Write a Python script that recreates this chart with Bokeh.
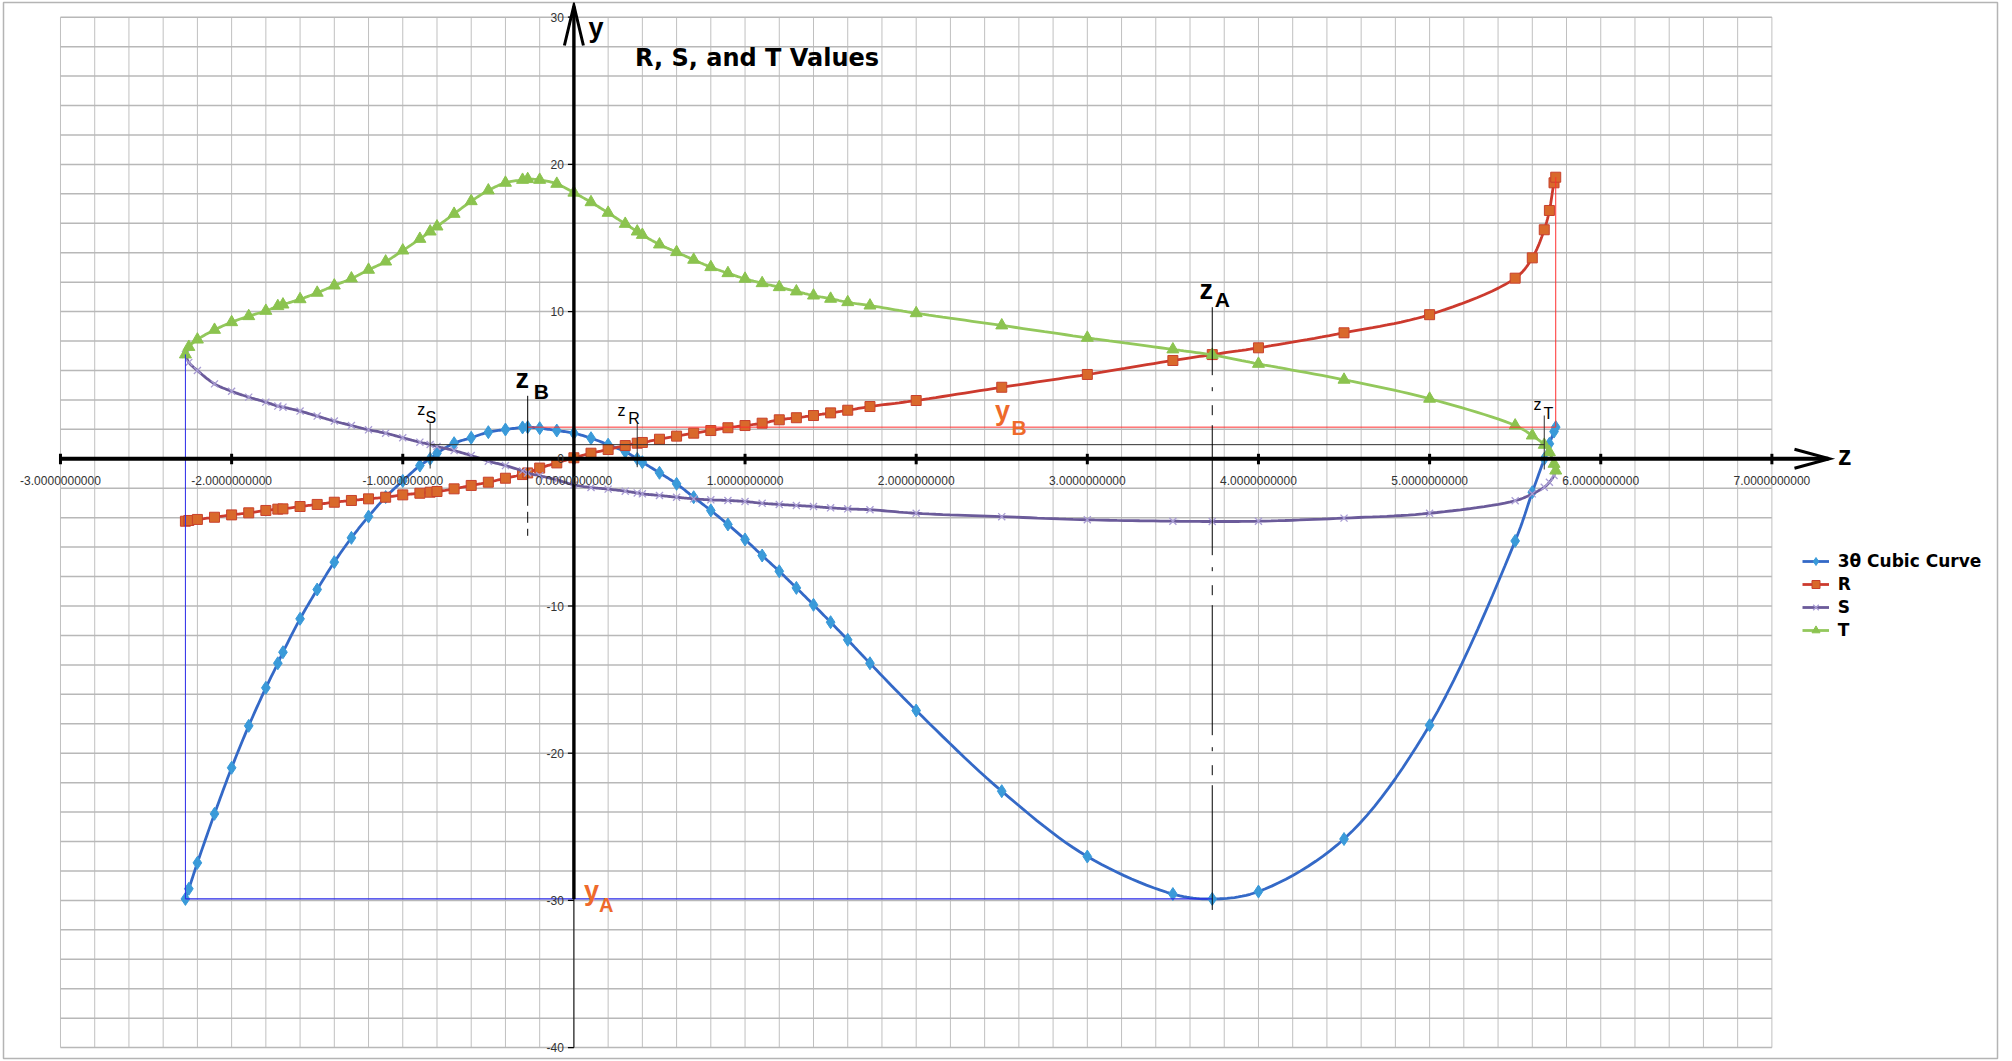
import numpy as np
from bokeh.plotting import figure
from bokeh.models import Range1d, Legend, LegendItem
from bokeh.core.properties import value
from bokeh.embed import file_html
from bokeh.resources import INLINE

# ---------------------------------------------------------------------------
# Data: all four series are sampled at the same z positions
# ---------------------------------------------------------------------------
z = [-2.27, -2.25, -2.2, -2.1, -2.0, -1.9, -1.8, -1.73, -1.7, -1.6,
     -1.5, -1.4, -1.3, -1.2, -1.1, -1.0, -0.9, -0.84, -0.8, -0.7,
     -0.6, -0.5, -0.4, -0.3, -0.27, -0.2, -0.1, 0.0, 0.1, 0.2,
     0.3, 0.37, 0.4, 0.5, 0.6, 0.7, 0.8, 0.9, 1.0, 1.1,
     1.2, 1.3, 1.4, 1.5, 1.6, 1.73, 2.0, 2.5, 3.0, 3.5,
     3.73, 4.0, 4.5, 5.0, 5.5, 5.6, 5.67, 5.7, 5.727, 5.737]

cubic_3theta = [-29.9, -29.21, -27.45, -24.12, -20.99, -18.14, -15.56, -13.89, -13.14, -10.87,
                -8.88, -7.02, -5.37, -3.92, -2.6, -1.5, -0.46, 0.0, 0.38, 1.06,
                1.43, 1.81, 1.99, 2.13, 2.15, 2.08, 1.92, 1.74, 1.40, 0.96,
                0.48, 0.0, -0.23, -0.95, -1.70, -2.61, -3.51, -4.46, -5.48, -6.57,
                -7.64, -8.77, -9.92, -11.10, -12.30, -13.89, -17.10, -22.58, -27.02, -29.57,
                -29.9, -29.40, -25.83, -18.10, -5.58, -2.27, 0.0, 1.02, 1.85, 2.15]

r_vals = [-4.24, -4.19, -4.12, -3.97, -3.81, -3.67, -3.51, -3.42, -3.40, -3.24,
          -3.10, -2.95, -2.83, -2.72, -2.61, -2.45, -2.34, -2.27, -2.22, -2.04,
          -1.81, -1.59, -1.32, -1.07, -0.96, -0.63, -0.28, 0.07, 0.38, 0.63,
          0.90, 1.06, 1.11, 1.33, 1.54, 1.74, 1.92, 2.11, 2.26, 2.42,
          2.65, 2.79, 2.94, 3.12, 3.30, 3.55, 3.96, 4.86, 5.73, 6.68,
          7.08, 7.54, 8.56, 9.79, 12.27, 13.65, 15.56, 16.87, 18.75, 19.13]

s_vals = [7.09, 6.55, 6.00, 5.09, 4.59, 4.19, 3.85, 3.58, 3.51, 3.24,
          2.90, 2.56, 2.26, 1.97, 1.74, 1.43, 1.13, 0.97, 0.84, 0.56,
          0.22, -0.16, -0.46, -0.82, -0.96, -1.15, -1.43, -1.77, -1.95, -2.06,
          -2.20, -2.32, -2.38, -2.49, -2.61, -2.72, -2.79, -2.83, -2.90, -3.02,
          -3.10, -3.17, -3.24, -3.33, -3.40, -3.46, -3.70, -3.93, -4.14, -4.24,
          -4.26, -4.24, -4.03, -3.70, -2.85, -2.38, -1.93, -1.59, -1.13, -0.80]

t_vals = [7.09, 7.60, 8.10, 8.76, 9.28, 9.69, 10.05, 10.37, 10.48, 10.84,
          11.28, 11.77, 12.25, 12.84, 13.40, 14.15, 14.94, 15.44, 15.78, 16.64,
          17.50, 18.23, 18.75, 18.95, 19.00, 18.95, 18.68, 18.08, 17.43, 16.71,
          15.96, 15.44, 15.21, 14.56, 14.04, 13.52, 13.02, 12.61, 12.23, 11.93,
          11.66, 11.37, 11.09, 10.87, 10.64, 10.41, 9.89, 9.06, 8.22, 7.43,
          7.06, 6.45, 5.37, 4.08, 2.26, 1.58, 0.95, 0.45, -0.34, -0.80]

# special points marked on the chart
Z_START, Z_END = -2.27, 5.737
Z_S, Z_B, Z_R, Z_A, Z_T = -0.84, -0.27, 0.37, 3.73, 5.67
Y_A, Y_B = -29.9, 2.15
Y_ST = 0.96

x_ticks = [-3, -2, -1, 0, 1, 2, 3, 4, 5, 6, 7]
y_ticks = [-40, -30, -20, -10, 0, 10, 20, 30]
X_MIN, X_MAX, X_MINOR = -3, 7, 0.2
Y_MIN, Y_MAX, Y_MINOR = -40, 30, 2

# ---------------------------------------------------------------------------
# Canvas geometry
# ---------------------------------------------------------------------------
W, H = 2012, 1061
BL, BR, BT, BB = 3, 15, 2, 3
FW, FH = W - BL - BR, H - BT - BB
UX, UY = 171.14, 14.72          # pixels per data unit
OX, OY = 570.4, 456.3           # data origin inside the frame (px)
x_range = Range1d(-OX / UX, (FW - OX) / UX)
y_range = Range1d(-(FH - OY) / UY, OY / UY)


def px_x(n):
    return n / UX


def px_y(n):
    return n / UY


def smooth_path(xs, ys, steps=12, alpha=0.5):
    """Smoothed connector through the points (centripetal Catmull-Rom in screen space)."""
    P = np.column_stack([np.asarray(xs, float) * UX, np.asarray(ys, float) * UY])
    ext = np.vstack([2 * P[0] - P[1], P, 2 * P[-1] - P[-2]])
    out = [P[0]]

    def knot(t, a, b):
        return t + max(float(np.hypot(*(b - a))), 1e-6) ** alpha

    for i in range(1, len(ext) - 2):
        p0, p1, p2, p3 = ext[i - 1], ext[i], ext[i + 1], ext[i + 2]
        t0 = 0.0
        t1 = knot(t0, p0, p1)
        t2 = knot(t1, p1, p2)
        t3 = knot(t2, p2, p3)
        for t in np.linspace(t1, t2, steps + 1)[1:]:
            a1 = (t1 - t) / (t1 - t0) * p0 + (t - t0) / (t1 - t0) * p1
            a2 = (t2 - t) / (t2 - t1) * p1 + (t - t1) / (t2 - t1) * p2
            a3 = (t3 - t) / (t3 - t2) * p2 + (t - t2) / (t3 - t2) * p3
            b1 = (t2 - t) / (t2 - t0) * a1 + (t - t0) / (t2 - t0) * a2
            b2 = (t3 - t) / (t3 - t1) * a2 + (t - t1) / (t3 - t1) * a3
            out.append((t2 - t) / (t2 - t1) * b1 + (t - t1) / (t2 - t1) * b2)
    out = np.array(out)
    return list(out[:, 0] / UX), list(out[:, 1] / UY)


p = figure(width=W, height=H, x_range=x_range, y_range=y_range,
           x_axis_type=None, y_axis_type=None,
           toolbar_location=None, output_backend="svg",
           min_border_left=BL, min_border_right=BR,
           min_border_top=BT, min_border_bottom=BB)
p.outline_line_color = "#b4b4b4"
p.outline_line_width = 1.5
p.background_fill_color = "white"
p.border_fill_color = "white"

# ---------------------------------------------------------------------------
# Grid
# ---------------------------------------------------------------------------
gx = list(np.round(np.arange(X_MIN, X_MAX + 1e-9, X_MINOR), 6))
gy = list(np.arange(Y_MIN, Y_MAX + 1, Y_MINOR))
p.segment(x0=gx, y0=Y_MIN, x1=gx, y1=Y_MAX, line_color="#c0c0c0", line_width=1)
p.segment(x0=X_MIN, y0=gy, x1=X_MAX, y1=gy, line_color="#b8b8b8", line_width=1.5)

# ---------------------------------------------------------------------------
# Series
# ---------------------------------------------------------------------------
FONT = value("Liberation Sans")
series = [
    ("3θ Cubic Curve", cubic_3theta, "#3469c7",
     dict(marker="diamond", size=13, fill_color="#3a9ad9", line_color="#3a9ad9")),
    ("R", r_vals, "#cc3a2e",
     dict(marker="square", size=10, fill_color="#d9692b", line_color="#c8402c", line_width=1)),
    ("S", s_vals, "#6b5b9a",
     dict(marker="x", size=10, line_color="#a99dd4", line_width=1.3)),
    ("T", t_vals, "#93c85c",
     dict(marker="triangle", size=12, fill_color="#8bc34f", line_color="#8bc34f")),
]

legend_items = []
for name, vals, line_color, mk in series:
    sx, sy = smooth_path(z, vals)
    lr = p.line(sx, sy, line_color=line_color, line_width=2.8)
    mr = p.scatter(z, vals, **mk)
    legend_items.append(LegendItem(label=name, renderers=[lr, mr]))

# ---------------------------------------------------------------------------
# Construction lines
# ---------------------------------------------------------------------------
BLUE, RED, DARK = "#2a2ae8", "#ff3030", "#303030"
p.segment(x0=Z_START, y0=Y_A, x1=Z_START, y1=s_vals[0], line_color=BLUE, line_width=1)
p.segment(x0=Z_START, y0=Y_A, x1=Z_A, y1=Y_A, line_color=BLUE, line_width=1.2)
p.segment(x0=Z_B, y0=Y_B, x1=Z_END, y1=Y_B, line_color=RED, line_width=1)
p.segment(x0=Z_END, y0=Y_B, x1=Z_END, y1=r_vals[-1], line_color=RED, line_width=1)
p.segment(x0=Z_S, y0=Y_ST, x1=Z_T, y1=Y_ST, line_color=DARK, line_width=1)

# short markers at the roots
p.segment(x0=[Z_S, Z_R, Z_T], y0=[px_y(-9.7), px_y(-8.4), px_y(-10.7)],
          x1=[Z_S, Z_R, Z_T], y1=[px_y(35.6), px_y(35.3), px_y(43.3)],
          line_color=DARK, line_width=1)

# dash-dot verticals through the turning points
p.line([Z_B, Z_B], [px_y(63), px_y(-83.4)], line_color="black", line_width=1,
       line_dash="110 6 11 6 7 60")
p.line([Z_A, Z_A], [px_y(151.6), Y_A - px_y(11)], line_color="black", line_width=1,
       line_dash="130 12 4 14 10 10", line_dash_offset=62)

# ---------------------------------------------------------------------------
# Axes drawn as arrows through the origin
# ---------------------------------------------------------------------------
X_TIP = X_MAX + px_x(57.6)
Y_TIP = Y_MAX + px_y(11.7)
p.segment(x0=X_MIN, y0=0, x1=X_TIP - px_x(1), y1=0, line_color="black", line_width=4)
p.multi_line(xs=[[X_TIP - px_x(35), X_TIP, X_TIP - px_x(35)]],
             ys=[[px_y(9.5), 0, -px_y(9.5)]], line_color="black", line_width=3,
             line_join="miter")
p.segment(x0=0, y0=Y_MIN, x1=0, y1=Y_A, line_color="black", line_width=1)
p.segment(x0=0, y0=Y_A, x1=0, y1=Y_TIP - px_y(1), line_color="black", line_width=3.4)
p.multi_line(xs=[[-px_x(9.5), 0, px_x(9.5)]],
             ys=[[Y_TIP - px_y(40), Y_TIP, Y_TIP - px_y(40)]], line_color="black",
             line_width=3, line_join="miter")

# tick marks
p.segment(x0=x_ticks, y0=px_y(5), x1=x_ticks, y1=-px_y(5.5), line_color="black", line_width=3)
p.segment(x0=-px_x(6), y0=y_ticks, x1=0, y1=y_ticks, line_color="black", line_width=1.2)

# tick labels
p.text(x=x_ticks, y=0, text=["%.10f" % v for v in x_ticks], y_offset=22,
       text_align="center", text_baseline="middle", text_font=FONT,
       text_font_size="12px", text_color="#333333")
p.text(x=0, y=y_ticks, text=[str(v) for v in y_ticks], x_offset=-10,
       text_align="right", text_baseline="middle", text_font=FONT,
       text_font_size="12px", text_color="#333333")

BASELINE_SHIFT = 0.37   # em; lifts the alphabetic baseline onto the intended line


def label(x, y, txt, dx, dy, size, bold=True, color="black"):
    p.text(x=[x], y=[y], text=[txt], x_offset=dx, y_offset=dy - BASELINE_SHIFT * size,
           text_align="left", text_baseline="alphabetic", text_font=FONT,
           text_font_size=f"{size}px", text_font_style="bold" if bold else "normal",
           text_color=color)


# axis names
label(0, Y_TIP, "y", 14.6, 32.5, 27)
label(X_TIP, 0, "z", 8.4, 6.7, 27)

# root / turning point names
label(Z_B, 0, "z", -12.2, -70, 27)
label(Z_B, 0, "B", 6.1, -60, 21)
label(Z_A, 0, "z", -12.8, -159, 27)
label(Z_A, 0, "A", 2.5, -151.6, 21)
label(Z_S, 0, "z", -12.9, -43.3, 16, bold=False)
label(Z_S, 0, "S", -4.6, -35.6, 16, bold=False)
label(Z_R, 0, "z", -19.7, -42.6, 16, bold=False)
label(Z_R, 0, "R", -9, -34.3, 16, bold=False)
label(Z_T, 0, "z", -10.8, -48.3, 16, bold=False)
label(Z_T, 0, "T", -0.8, -39, 16, bold=False)

ORANGE = "#ee6a2b"
label(2.46, Y_B, "y", 0, -6, 27, color=ORANGE)
label(2.46, Y_B, "B", 16.7, 8.3, 21, color=ORANGE)
label(0, Y_A, "y", 10, 2, 27, color=ORANGE)
label(0, Y_A, "A", 25, 13, 20, color=ORANGE)

# chart title
p.text(x=[0.3576], y=[26.6], text=["R, S, and T Values"], y_offset=-BASELINE_SHIFT * 24,
       text_align="left", text_baseline="alphabetic", text_font=value("DejaVu Sans"),
       text_font_size="24px", text_font_style="bold", text_color="black")

# ---------------------------------------------------------------------------
# Legend
# ---------------------------------------------------------------------------
legend = Legend(items=legend_items, location=(1798.7, 418),
                glyph_width=27, glyph_height=20, label_height=20,
                label_standoff=9, spacing=3, padding=0, margin=0,
                label_text_font="DejaVu Sans", label_text_font_size="17px",
                label_text_font_style="bold", label_text_color="black",
                border_line_alpha=0, background_fill_alpha=0)
p.add_layout(legend)

open("out.html", "w").write(file_html(p, INLINE))
